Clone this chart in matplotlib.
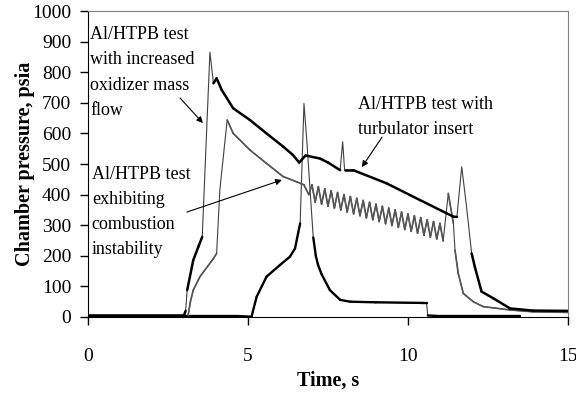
import numpy as np
import matplotlib
matplotlib.use("Agg")
import matplotlib.pyplot as plt
from matplotlib.collections import LineCollection

plt.rcParams['font.family'] = ['Liberation Serif', 'DejaVu Serif']

# Al/HTPB test with increased oxidizer mass flow / turbulator (upper black trace)
A_t = [0, 3.0, 3.05, 3.1, 3.29, 3.45, 3.57, 3.81, 3.92, 4.02, 4.18, 4.54, 5.06,
       5.58, 6.1, 6.4, 6.6, 6.8, 7.25, 7.5, 7.88, 7.96, 8.02, 8.29, 9.33, 10.38,
       11.42, 11.53, 11.68, 11.83, 11.99, 12.09, 12.3, 12.67, 13.19, 13.9, 15.0]
A_p = [5, 5, 20, 88, 186, 230, 262, 866, 764, 780, 742, 682, 644,
       600, 557, 530, 505, 528, 518, 505, 480, 573, 480, 480, 437, 382,
       328, 327, 491, 361, 208, 164, 83, 61, 28, 21, 20]

# combustion instability test (gray trace with oscillations)
B_start_t = [3.13, 3.2, 3.29, 3.5, 3.92, 4.02, 4.12, 4.35, 4.54, 5.06, 5.58,
             6.1, 6.52, 6.75, 6.9]
B_start_p = [6, 50, 88, 132, 191, 208, 415, 644, 600, 546, 502,
             459, 442, 432, 400]
B_osc_t = [7.0, 7.1, 7.2, 7.3, 7.4, 7.5, 7.6, 7.7, 7.8, 7.9, 8.0, 8.1, 8.2, 8.3,
           8.4, 8.5, 8.6, 8.7, 8.8, 8.9, 9.0, 9.1, 9.2, 9.3, 9.4, 9.5, 9.6, 9.7,
           9.8, 9.9, 10.0, 10.1, 10.2, 10.3, 10.4, 10.5, 10.6, 10.7, 10.8, 10.9,
           11.0, 11.1]
B_osc_p = [432, 375, 426, 369, 419, 362, 413, 356, 407, 350, 400, 343, 394, 337,
           388, 331, 381, 324, 375, 318, 369, 312, 362, 305, 356, 299, 350, 293,
           343, 286, 337, 280, 331, 274, 325, 267, 318, 261, 312, 255,
           306, 248]
B_end_t = [11.26, 11.42, 11.47, 11.57, 11.73, 12.04, 12.35, 13.19, 13.9, 15.0]
B_end_p = [404, 306, 219, 143, 77, 50, 34, 23, 17, 15]

# trace starting at 5 s
C_t = [0, 4.7, 5.11, 5.27, 5.58, 6.0, 6.31, 6.47, 6.63, 6.75, 6.85, 6.94, 7.04,
       7.12, 7.19, 7.3, 7.56, 7.88, 8.2, 9.0, 10.47, 10.58, 10.62, 11.0, 13.5]
C_p = [3, 3, 1, 66, 132, 170, 197, 224, 306, 698, 560, 415, 260,
       200, 170, 140, 88, 56, 50, 48, 46, 46, 5, 3, 3]

x_ticks = [0, 5, 10, 15]
y_ticks = list(range(0, 1001, 100))


def draw_trace(ax, t, p, color, lw_thick, lw_thin=0.8, steep=800):
    # steep parts of the record look thin, noisy slow parts look thick
    t = np.asarray(t, dtype=float)
    p = np.asarray(p, dtype=float)
    ax.plot(t, p, color='#404040', lw=lw_thin, solid_joinstyle='round')
    pts = np.column_stack([t, p])
    segs = np.stack([pts[:-1], pts[1:]], axis=1)
    slope = np.abs(np.diff(p) / np.diff(t))
    slow = slope <= steep
    lc = LineCollection(segs[slow], colors=color, linewidths=lw_thick,
                        capstyle='round', joinstyle='round')
    ax.add_collection(lc)


fig = plt.figure(figsize=(5.76, 3.96), dpi=100)
fig.subplots_adjust(left=0.1528, right=0.986, bottom=0.1995, top=0.972)
ax = fig.add_subplot(111)

B_t = B_start_t + B_osc_t + B_end_t
B_p = B_start_p + B_osc_p + B_end_p

draw_trace(ax, C_t, C_p, 'black', 1.7)
draw_trace(ax, B_t, B_p, '#555555', 1.2)
draw_trace(ax, A_t, A_p, 'black', 1.8)

ax.set_xlim(0, 15)
ax.set_ylim(0, 1000)
ax.set_xticks(x_ticks)
ax.set_yticks(y_ticks)
ax.tick_params(axis='both', direction='out', length=6, width=1, labelsize=14,
               colors='black')
ax.tick_params(axis='x', pad=16)
ax.tick_params(axis='y', pad=6)

for s in ['top', 'right']:
    ax.spines[s].set_color('#808080')
for s in ['left', 'bottom']:
    ax.spines[s].set_color('black')

ax.set_xlabel('Time, s', fontsize=14.5, fontweight='bold')
ax.set_ylabel('Chamber pressure, psia', fontsize=14.5, fontweight='bold')
ax.xaxis.set_label_coords(0.5, -0.175)
ax.yaxis.set_label_coords(-0.11, 0.5)

arrow = dict(arrowstyle='-|>', lw=0.8, color='black', mutation_scale=9,
             shrinkA=0, shrinkB=0)

ax.text(0.06, 950, 'Al/HTPB test\nwith increased\noxidizer mass\nflow',
        fontsize=13, va='top', ha='left', linespacing=1.62)
ax.annotate('', xy=(3.59, 634), xytext=(2.875, 716), arrowprops=arrow)

ax.text(0.12, 495, 'Al/HTPB test\nexhibiting\ncombustion\ninstability',
        fontsize=13, va='top', ha='left', linespacing=1.62)
ax.annotate('', xy=(6.06, 448), xytext=(3.09, 343), arrowprops=arrow)

ax.text(8.44, 722, 'Al/HTPB test with\nturbulator insert',
        fontsize=13, va='top', ha='left', linespacing=1.62)
ax.annotate('', xy=(8.56, 490), xytext=(9.19, 588), arrowprops=arrow)

fig.savefig('out.png', dpi=100)
